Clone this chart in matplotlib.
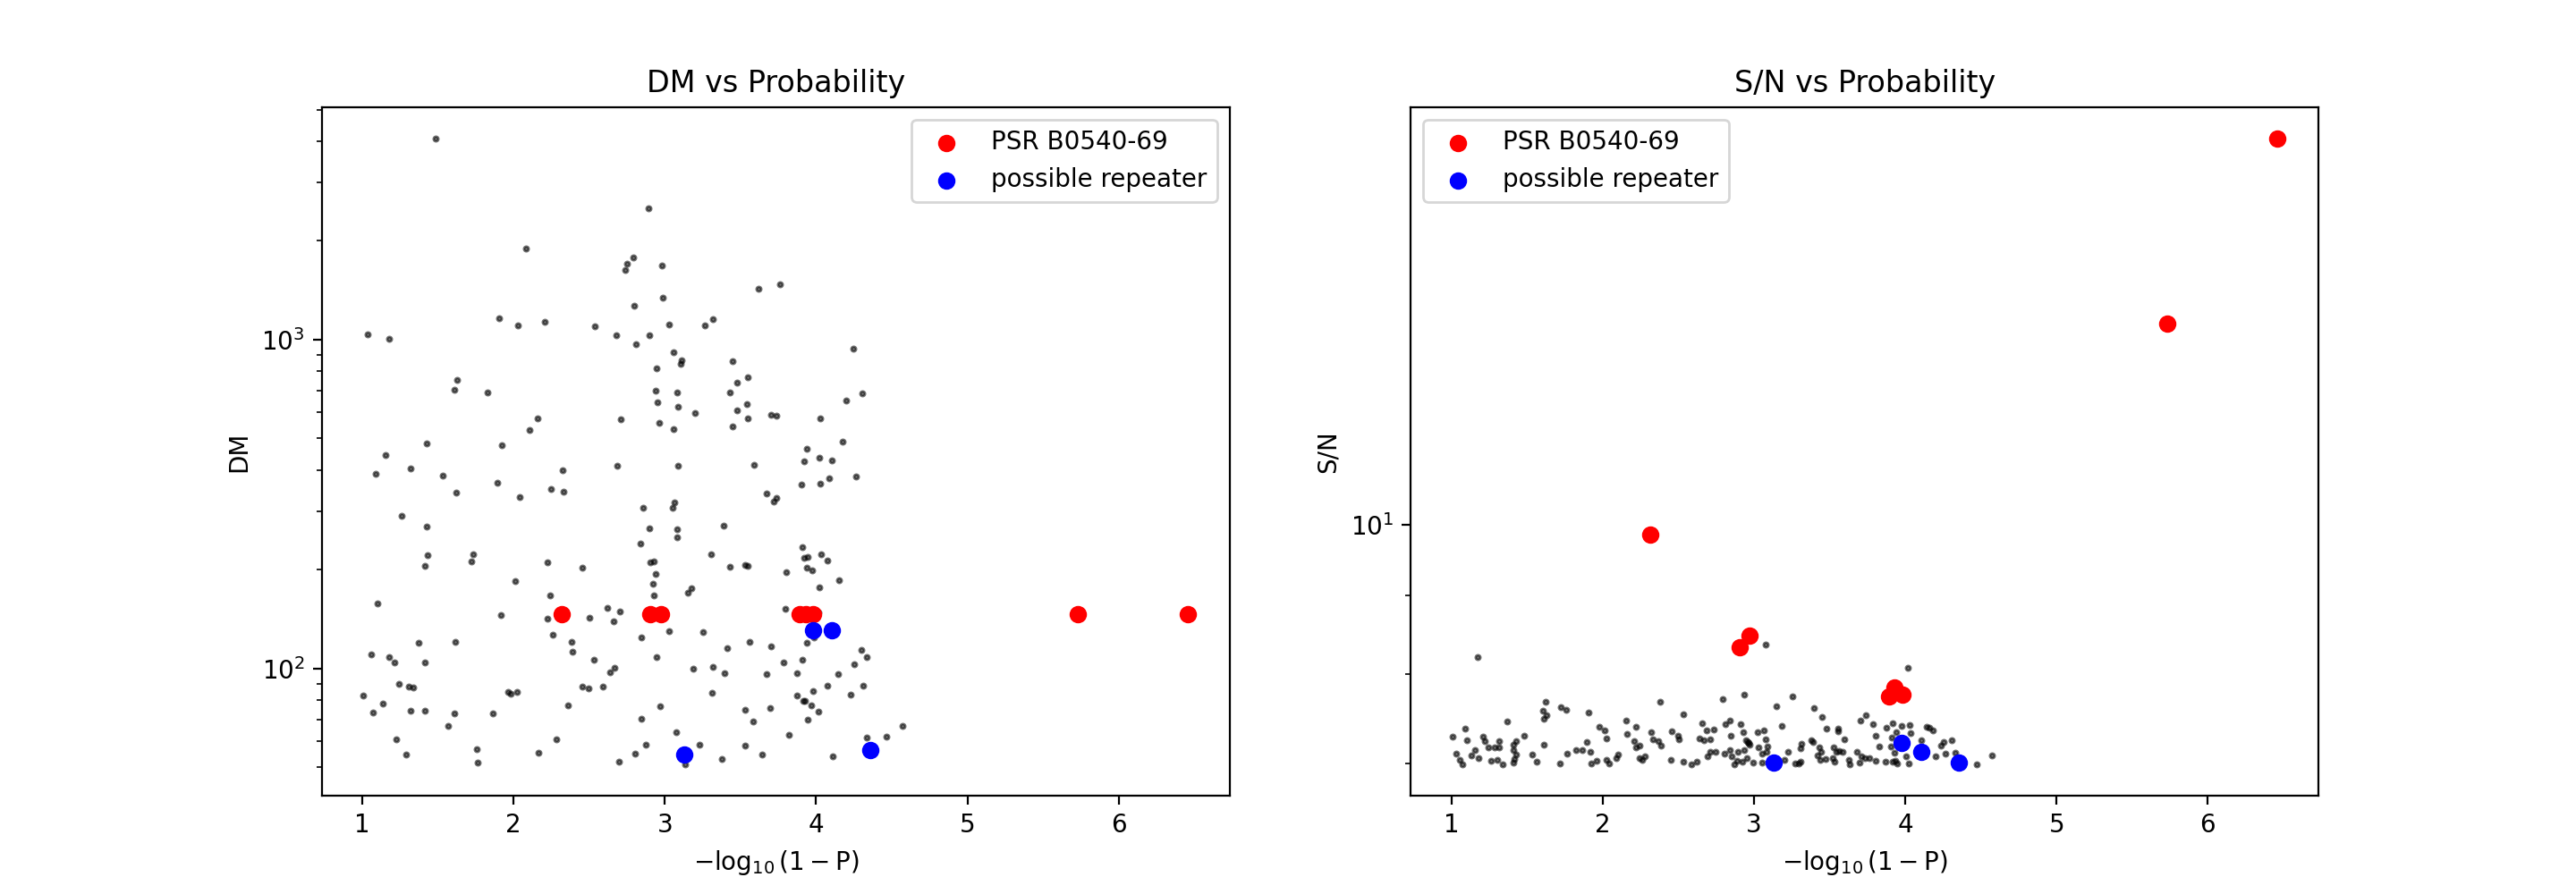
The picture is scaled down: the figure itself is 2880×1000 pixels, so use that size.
import matplotlib
matplotlib.use("Agg")
import matplotlib.pyplot as plt

# candidates, DM panel: x = -log10(1-P), DM
dm_x = [1.486, 2.89, 2.08, 2.79, 2.75, 2.737, 2.978, 3.622, 2.988, 2.797, 1.905, 2.029, 2.206, 2.535,
        1.035, 1.179, 2.679, 2.896, 2.812, 3.026, 3.267, 3.315, 3.056, 3.111, 3.106, 2.948, 3.445, 3.548,
        3.475, 3.427, 1.628, 1.610, 1.827, 2.942, 3.08, 2.954, 3.086, 3.197, 3.544, 3.48, 3.55, 3.445,
        3.704, 3.74, 2.711, 2.962, 3.056, 2.158, 2.104, 1.424, 1.923, 1.155,
        1.089, 1.320, 1.532, 1.893, 1.622, 2.039, 2.246, 2.324, 2.330, 2.683, 3.086, 3.592, 3.674, 3.74,
        3.722, 1.261, 1.424, 2.854, 3.062, 3.054, 2.896, 3.08, 3.08, 3.391, 2.836, 1.432, 1.414, 1.733,
        1.721, 2.224, 2.453, 2.906, 2.93, 2.938, 2.92, 2.93, 3.303, 3.431, 3.532, 3.548, 2.011, 2.242,
        3.175, 3.153, 1.101, 1.917, 2.224, 2.501, 2.619, 2.705, 2.661, 2.258, 3.03, 3.255, 2.842, 2.382,
        2.388, 1.616, 1.372, 3.56, 3.704, 3.415, 1.061, 1.179, 1.215, 1.414, 2.529, 2.948, 2.665, 2.637,
        3.185, 3.315, 3.397, 3.674, 1.243, 1.307, 1.34, 1.007, 1.137, 1.073, 1.320, 1.414, 1.610, 1.863,
        1.568, 1.963, 1.981, 2.025, 2.453, 2.495, 2.589, 2.36, 2.966, 3.309, 2.842, 3.528, 3.698, 3.586,
        3.073, 1.227, 2.282, 1.291, 1.755, 1.761, 2.164, 2.872, 2.802, 2.697, 3.231, 3.133, 3.379, 3.528,
        3.64,
        3.762, 4.246, 4.199, 4.306, 4.027, 4.175, 3.939, 4.023, 4.103, 3.921,
        3.903, 4.029, 4.087, 4.264, 3.909, 3.919, 3.943, 4.033, 4.075, 3.937, 3.975, 3.804, 4.153, 4.023,
        3.798, 4.013, 3.983, 3.937, 4.298, 4.334, 3.909, 3.786, 4.252, 3.873, 4.147, 4.075, 4.31, 3.979,
        3.873, 3.917, 3.925, 3.969, 4.017, 4.226, 3.945, 4.572, 3.82, 4.334, 4.466, 4.109]
dm_val = [4080, 2505, 1889, 1775, 1698, 1626, 1678, 1429, 1340, 1266, 1159, 1104, 1132, 1097,
          1036, 1004, 1030, 1030, 968, 1110, 1104, 1153, 915, 865, 843, 817, 859, 767,
          739, 690, 753, 703, 690, 698, 690, 644, 624, 597, 636, 609, 576, 544,
          590, 585, 572, 558, 534, 575, 531, 483, 477, 446,
          391, 406, 385, 367, 343, 332, 351, 400, 345, 413, 413, 416, 341, 330,
          321, 291, 270, 308, 320, 308, 267, 265, 250, 272, 240, 221, 205, 223,
          211, 210, 202, 210, 211, 194, 181, 167, 222, 204, 206, 205, 184, 167,
          175, 170, 158, 145, 142, 143, 153, 149, 139, 127, 130, 129, 124, 120.5,
          112.5, 120.5, 120, 120.5, 117, 115, 110, 108, 104, 104, 106, 108, 100.5, 97.3,
          100, 101, 96.8, 96.2, 89.8, 88.3, 87.7, 82.8, 78.2, 73.5, 74.4, 74.4, 73.0, 73.0,
          66.8, 85, 83.8, 85, 88.1, 86.9, 88.1, 77.3, 76.8, 84.3, 70.3, 74.8, 75.8, 69,
          64, 61, 61, 54.8, 56.9, 51.8, 55.5, 58.7, 55.1, 52.1, 58.7, 51.1, 53.1, 58.3,
          54.8,
          1472, 937, 652, 687, 575, 489, 465, 437, 430, 425,
          362, 365, 379, 383, 234, 217, 218, 222, 213, 202, 199, 196, 185, 176,
          152, 148, 124, 120, 114, 108, 106, 104, 103, 96.8, 96.2, 88.7, 88.7, 85.4,
          82.9, 79.8, 79.5, 77.4, 73.9, 83.2, 69.8, 66.8, 62.8, 61.6, 62.1, 54]

# candidates, S/N panel
sn_x = [1.004, 1.087, 1.101, 1.032, 1.051, 1.071, 1.154, 1.130, 1.177, 1.171, 1.207, 1.219, 1.242, 1.282,
        1.313, 1.313, 1.260, 1.302, 1.337, 1.367, 1.408, 1.428, 1.408, 1.428, 1.416, 1.408, 1.479, 1.532,
        1.562, 1.621, 1.603, 1.629, 1.607, 1.607, 1.725, 1.759, 1.716, 1.763, 1.822, 1.863, 1.905, 1.893,
        1.919, 1.925, 1.960, 1.976, 2.011, 2.023, 2.023, 2.043, 2.086, 2.102, 2.153, 2.159, 2.218, 2.206,
        2.218, 2.244, 2.240, 2.262, 2.277, 2.378, 2.319, 2.333, 2.366, 2.384, 2.455, 2.496, 2.504, 2.532,
        2.449, 2.532, 2.587, 2.622, 2.654, 2.638, 2.670, 2.685, 2.711, 2.735, 2.695, 2.711, 2.745, 2.792,
        2.810, 2.841, 2.847, 2.802, 2.841, 2.853, 2.869, 2.892, 2.912, 2.934, 2.928, 2.944, 2.957, 2.962,
        2.971, 2.932, 2.888, 2.922, 2.955, 2.993, 3.022, 3.066, 3.078, 3.078, 3.088, 3.030, 3.050, 3.082,
        3.050, 3.150, 3.182, 3.253, 3.227, 3.202, 3.271, 3.306, 3.312, 3.306,
        3.395, 3.448, 3.478, 3.381, 3.393, 3.433, 3.417, 3.444, 3.439, 3.472, 3.529, 3.555, 3.555, 3.596,
        3.543, 3.563, 3.585, 3.523, 3.533, 3.626, 3.634, 3.681, 3.701, 3.738, 3.785, 3.711, 3.736, 3.760,
        3.697, 3.803, 3.827, 3.803, 3.874, 3.916, 3.977, 4.028, 4.016, 3.908, 3.943, 4.036, 3.906, 3.927,
        3.872, 3.937, 3.947, 4.006, 4.020, 4.105, 4.144, 4.184, 4.156, 4.233, 4.253, 4.304, 4.268, 4.199,
        4.328, 4.470, 4.572, 3.297, 3.918]
sn_val = [7.29, 7.37, 7.25, 7.10, 7.04, 6.99, 7.14, 7.08, 7.06, 8.20, 7.29, 7.24, 7.17, 7.17,
          7.17, 7.24, 7.03, 7.04, 6.99, 7.45, 7.20, 7.24, 7.14, 7.09, 7.05, 7.01, 7.30, 7.09,
          7.02, 7.67, 7.57, 7.52, 7.48, 7.20, 7.61, 7.58, 7.00, 7.10, 7.14, 7.14, 7.55, 7.23,
          7.12, 7.00, 7.03, 7.39, 7.35, 7.27, 7.04, 7.00, 7.06, 7.09, 7.46, 7.31, 7.39, 7.24,
          7.17, 7.19, 7.06, 7.04, 7.07, 7.67, 7.33, 7.26, 7.24, 7.19, 7.34, 7.30, 7.26, 7.53,
          7.04, 7.02, 6.99, 7.02, 7.43, 7.27, 7.25, 7.35, 7.26, 7.36, 7.07, 7.12, 7.12, 7.71,
          7.42, 7.46, 7.30, 7.10, 7.14, 7.07, 6.99, 7.12, 7.42, 7.76, 7.33, 7.25, 7.23, 7.22,
          7.20, 7.14, 7.03, 7.02, 7.06, 7.01, 7.33, 7.35, 8.36, 7.26, 7.18, 7.17, 7.10, 7.12,
          7.01, 7.62, 7.40, 7.74, 7.12, 7.04, 7.00, 7.02, 7.21, 7.16,
          7.60, 7.50, 7.37, 7.25, 7.23, 7.17, 7.08, 7.12, 7.04, 7.05, 7.17, 7.37, 7.34, 7.26,
          7.12, 7.13, 7.12, 7.06, 7.02, 7.04, 6.99, 7.12, 7.46, 7.52, 7.42, 7.07, 7.06, 7.06,
          7.01, 7.30, 7.18, 7.03, 7.38, 7.43, 7.40, 7.41, 8.07, 7.28, 7.33, 7.32, 7.18, 7.11,
          7.02, 7.03, 7.00, 7.07, 7.00, 7.25, 7.39, 7.35, 7.38, 7.19, 7.23, 7.25, 7.10, 7.07,
          7.11, 6.99, 7.08, 7.00, 7.02]

# PSR B0540-69 detections
psr_x = [2.316, 2.904, 2.973, 3.89, 3.931, 3.98, 5.732, 6.459]
psr_dm = [146, 146, 146, 146, 146, 146, 146, 146]
psr_sn = [9.85, 8.33, 8.47, 7.74, 7.84, 7.76, 13.5, 17.8]

# possible repeater
rep_x = [3.127, 3.977, 4.105, 4.356]
rep_dm = [54.8, 130.6, 130.6, 56.5]
rep_sn = [7.01, 7.22, 7.12, 7.01]

fig, (ax1, ax2) = plt.subplots(1, 2, figsize=(14.4, 5))

ax1.scatter(dm_x, dm_val, s=3.5, c='k', alpha=0.55, linewidths=1.0)
ax1.scatter(psr_x, psr_dm, c='red', label='PSR B0540-69')
ax1.scatter(rep_x, rep_dm, c='blue', label='possible repeater')
ax1.set_yscale('log')
ax1.set_xlabel(r'$-\log_{10}(1-\mathrm{P})$')
ax1.set_ylabel('DM')
ax1.set_title('DM vs Probability')
ax1.legend(loc='upper right')

ax2.scatter(sn_x, sn_val, s=3.5, c='k', alpha=0.55, linewidths=1.0)
ax2.scatter(psr_x, psr_sn, c='red', label='PSR B0540-69')
ax2.scatter(rep_x, rep_sn, c='blue', label='possible repeater')
ax2.set_yscale('log')
ax2.set_xlabel(r'$-\log_{10}(1-\mathrm{P})$')
ax2.set_ylabel('S/N')
ax2.set_title('S/N vs Probability')
ax2.legend(loc='upper left')

plt.savefig('out.png', dpi=200)
